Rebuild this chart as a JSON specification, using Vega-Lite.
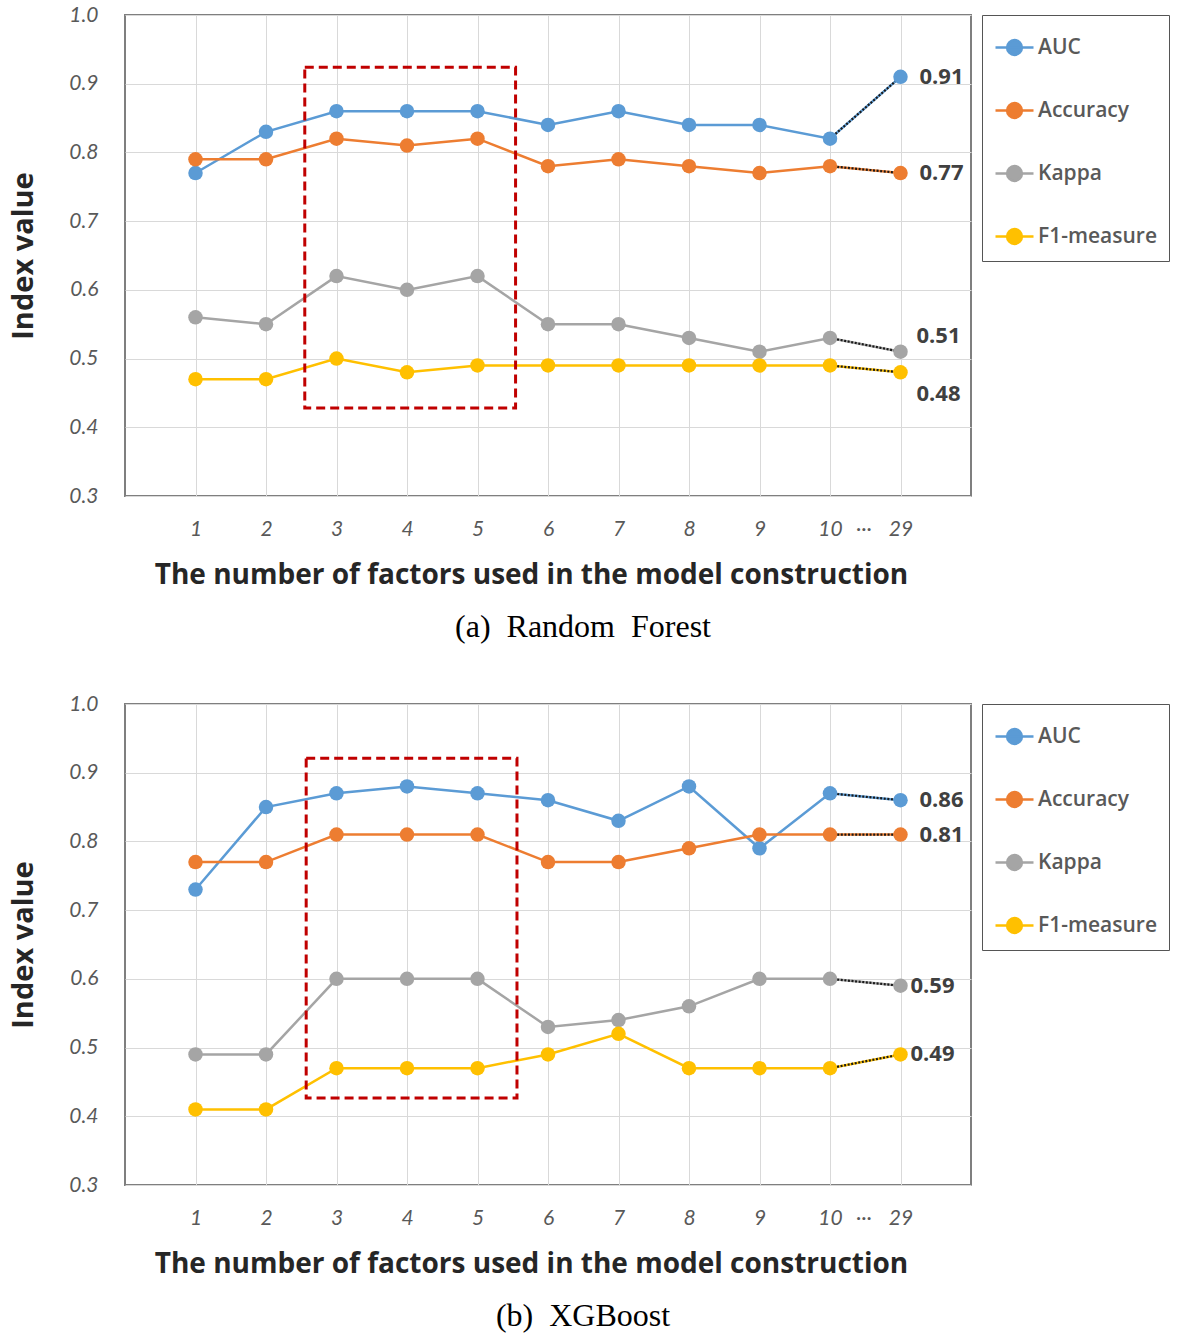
{
  "$schema": "https://vega.github.io/schema/vega-lite/v6.json",
  "padding": {"left": 8, "top": 3, "right": 4, "bottom": 4},
  "spacing": 48,
  "datasets": {
    "rf": [
      {"pos": 1, "metric": "AUC", "value": 0.77}, {"pos": 2, "metric": "AUC", "value": 0.83}, {"pos": 3, "metric": "AUC", "value": 0.86}, {"pos": 4, "metric": "AUC", "value": 0.86}, {"pos": 5, "metric": "AUC", "value": 0.86}, {"pos": 6, "metric": "AUC", "value": 0.84}, {"pos": 7, "metric": "AUC", "value": 0.86}, {"pos": 8, "metric": "AUC", "value": 0.84}, {"pos": 9, "metric": "AUC", "value": 0.84}, {"pos": 10, "metric": "AUC", "value": 0.82}, {"pos": 11, "metric": "AUC", "value": 0.91},
      {"pos": 1, "metric": "Accuracy", "value": 0.79}, {"pos": 2, "metric": "Accuracy", "value": 0.79}, {"pos": 3, "metric": "Accuracy", "value": 0.82}, {"pos": 4, "metric": "Accuracy", "value": 0.81}, {"pos": 5, "metric": "Accuracy", "value": 0.82}, {"pos": 6, "metric": "Accuracy", "value": 0.78}, {"pos": 7, "metric": "Accuracy", "value": 0.79}, {"pos": 8, "metric": "Accuracy", "value": 0.78}, {"pos": 9, "metric": "Accuracy", "value": 0.77}, {"pos": 10, "metric": "Accuracy", "value": 0.78}, {"pos": 11, "metric": "Accuracy", "value": 0.77},
      {"pos": 1, "metric": "Kappa", "value": 0.56}, {"pos": 2, "metric": "Kappa", "value": 0.55}, {"pos": 3, "metric": "Kappa", "value": 0.62}, {"pos": 4, "metric": "Kappa", "value": 0.60}, {"pos": 5, "metric": "Kappa", "value": 0.62}, {"pos": 6, "metric": "Kappa", "value": 0.55}, {"pos": 7, "metric": "Kappa", "value": 0.55}, {"pos": 8, "metric": "Kappa", "value": 0.53}, {"pos": 9, "metric": "Kappa", "value": 0.51}, {"pos": 10, "metric": "Kappa", "value": 0.53}, {"pos": 11, "metric": "Kappa", "value": 0.51},
      {"pos": 1, "metric": "F1-measure", "value": 0.47}, {"pos": 2, "metric": "F1-measure", "value": 0.47}, {"pos": 3, "metric": "F1-measure", "value": 0.50}, {"pos": 4, "metric": "F1-measure", "value": 0.48}, {"pos": 5, "metric": "F1-measure", "value": 0.49}, {"pos": 6, "metric": "F1-measure", "value": 0.49}, {"pos": 7, "metric": "F1-measure", "value": 0.49}, {"pos": 8, "metric": "F1-measure", "value": 0.49}, {"pos": 9, "metric": "F1-measure", "value": 0.49}, {"pos": 10, "metric": "F1-measure", "value": 0.49}, {"pos": 11, "metric": "F1-measure", "value": 0.48}
    ],
    "xgb": [
      {"pos": 1, "metric": "AUC", "value": 0.73}, {"pos": 2, "metric": "AUC", "value": 0.85}, {"pos": 3, "metric": "AUC", "value": 0.87}, {"pos": 4, "metric": "AUC", "value": 0.88}, {"pos": 5, "metric": "AUC", "value": 0.87}, {"pos": 6, "metric": "AUC", "value": 0.86}, {"pos": 7, "metric": "AUC", "value": 0.83}, {"pos": 8, "metric": "AUC", "value": 0.88}, {"pos": 9, "metric": "AUC", "value": 0.79}, {"pos": 10, "metric": "AUC", "value": 0.87}, {"pos": 11, "metric": "AUC", "value": 0.86},
      {"pos": 1, "metric": "Accuracy", "value": 0.77}, {"pos": 2, "metric": "Accuracy", "value": 0.77}, {"pos": 3, "metric": "Accuracy", "value": 0.81}, {"pos": 4, "metric": "Accuracy", "value": 0.81}, {"pos": 5, "metric": "Accuracy", "value": 0.81}, {"pos": 6, "metric": "Accuracy", "value": 0.77}, {"pos": 7, "metric": "Accuracy", "value": 0.77}, {"pos": 8, "metric": "Accuracy", "value": 0.79}, {"pos": 9, "metric": "Accuracy", "value": 0.81}, {"pos": 10, "metric": "Accuracy", "value": 0.81}, {"pos": 11, "metric": "Accuracy", "value": 0.81},
      {"pos": 1, "metric": "Kappa", "value": 0.49}, {"pos": 2, "metric": "Kappa", "value": 0.49}, {"pos": 3, "metric": "Kappa", "value": 0.60}, {"pos": 4, "metric": "Kappa", "value": 0.60}, {"pos": 5, "metric": "Kappa", "value": 0.60}, {"pos": 6, "metric": "Kappa", "value": 0.53}, {"pos": 7, "metric": "Kappa", "value": 0.54}, {"pos": 8, "metric": "Kappa", "value": 0.56}, {"pos": 9, "metric": "Kappa", "value": 0.60}, {"pos": 10, "metric": "Kappa", "value": 0.60}, {"pos": 11, "metric": "Kappa", "value": 0.59},
      {"pos": 1, "metric": "F1-measure", "value": 0.41}, {"pos": 2, "metric": "F1-measure", "value": 0.41}, {"pos": 3, "metric": "F1-measure", "value": 0.47}, {"pos": 4, "metric": "F1-measure", "value": 0.47}, {"pos": 5, "metric": "F1-measure", "value": 0.47}, {"pos": 6, "metric": "F1-measure", "value": 0.49}, {"pos": 7, "metric": "F1-measure", "value": 0.52}, {"pos": 8, "metric": "F1-measure", "value": 0.47}, {"pos": 9, "metric": "F1-measure", "value": 0.47}, {"pos": 10, "metric": "F1-measure", "value": 0.47}, {"pos": 11, "metric": "F1-measure", "value": 0.49}
    ],
    "rfBox": [{"from": 2.55, "to": 5.54, "top": 0.924, "bottom": 0.428}],
    "xgbBox": [{"from": 2.57, "to": 5.56, "top": 0.921, "bottom": 0.4265}],
    "gap": [{"pos": 10.48, "value": 0.3, "label": "\u00b7\u00b7\u00b7"}]
  },
  "vconcat": [
    {
      "width": 846,
      "height": 481,
      "data": {"name": "rf"},
      "title": {"text": "(a)\u00a0 Random\u00a0 Forest"},
      "encoding": {
        "x": {"field": "pos", "type": "quantitative", "scale": {"domain": [0, 12], "nice": false, "zero": false}, "axis": {"values": [1, 2, 3, 4, 5, 6, 7, 8, 9, 10, 11], "labelExpr": "datum.value == 11 ? '29' : '' + datum.value"}, "title": "The number of factors used in the model construction"},
        "y": {"field": "value", "type": "quantitative", "scale": {"domain": [0.3, 1.0], "nice": false, "zero": false}, "axis": {"values": [0.3, 0.4, 0.5, 0.6, 0.7, 0.8, 0.9, 1.0], "format": ".1f"}, "title": "Index value"}
      },
      "layer": [
        {"mark": {"type": "line", "strokeWidth": 2.5}, "encoding": {"color": {"field": "metric", "type": "nominal", "scale": {"domain": ["AUC", "Accuracy", "Kappa", "F1-measure"], "range": ["#5B9BD5", "#ED7D31", "#A5A5A5", "#FFC000"]}}}},
        {"transform": [{"filter": "datum.pos >= 10"}], "mark": {"type": "line", "strokeWidth": 2.2, "color": "#1a1a1a", "strokeDash": [2, 1.6]}, "encoding": {"detail": {"field": "metric"}}},
        {"mark": {"type": "point", "filled": true, "size": 210, "opacity": 1}, "encoding": {"color": {"field": "metric", "type": "nominal", "scale": {"domain": ["AUC", "Accuracy", "Kappa", "F1-measure"], "range": ["#5B9BD5", "#ED7D31", "#A5A5A5", "#FFC000"]}}}},
        {"data": {"name": "rfBox"}, "mark": {"type": "rect", "fillOpacity": 0, "stroke": "#C00000", "strokeWidth": 3, "strokeDash": [9, 5]}, "encoding": {"x": {"field": "from", "type": "quantitative"}, "x2": {"field": "to"}, "y": {"field": "top", "type": "quantitative"}, "y2": {"field": "bottom"}}},
        {"transform": [{"filter": "datum.pos == 11 && (datum.metric == 'AUC' || datum.metric == 'Accuracy')"}], "mark": {"type": "text", "align": "left", "baseline": "middle", "dx": 19, "font": "Open Sans", "fontSize": 22, "fontWeight": "bold", "color": "#404040"}, "encoding": {"text": {"field": "value", "type": "quantitative", "format": ".2f"}}},
        {"transform": [{"filter": "datum.pos == 11 && datum.metric == 'Kappa'"}], "mark": {"type": "text", "align": "left", "baseline": "middle", "dx": 16, "dy": -16, "font": "Open Sans", "fontSize": 22, "fontWeight": "bold", "color": "#404040"}, "encoding": {"text": {"field": "value", "type": "quantitative", "format": ".2f"}}},
        {"transform": [{"filter": "datum.pos == 11 && datum.metric == 'F1-measure'"}], "mark": {"type": "text", "align": "left", "baseline": "middle", "dx": 16, "dy": 22, "font": "Open Sans", "fontSize": 22, "fontWeight": "bold", "color": "#404040"}, "encoding": {"text": {"field": "value", "type": "quantitative", "format": ".2f"}}},
        {"data": {"name": "gap"}, "mark": {"type": "text", "align": "center", "baseline": "middle", "dy": 33, "font": "Lato", "fontSize": 20, "color": "#595959"}, "encoding": {"x": {"field": "pos", "type": "quantitative"}, "y": {"field": "value", "type": "quantitative"}, "text": {"field": "label"}}}
      ]
    },
    {
      "width": 846,
      "height": 481,
      "data": {"name": "xgb"},
      "title": {"text": "(b)\u00a0 XGBoost"},
      "encoding": {
        "x": {"field": "pos", "type": "quantitative", "scale": {"domain": [0, 12], "nice": false, "zero": false}, "axis": {"values": [1, 2, 3, 4, 5, 6, 7, 8, 9, 10, 11], "labelExpr": "datum.value == 11 ? '29' : '' + datum.value"}, "title": "The number of factors used in the model construction"},
        "y": {"field": "value", "type": "quantitative", "scale": {"domain": [0.3, 1.0], "nice": false, "zero": false}, "axis": {"values": [0.3, 0.4, 0.5, 0.6, 0.7, 0.8, 0.9, 1.0], "format": ".1f"}, "title": "Index value"}
      },
      "layer": [
        {"mark": {"type": "line", "strokeWidth": 2.5}, "encoding": {"color": {"field": "metric", "type": "nominal", "scale": {"domain": ["AUC", "Accuracy", "Kappa", "F1-measure"], "range": ["#5B9BD5", "#ED7D31", "#A5A5A5", "#FFC000"]}}}},
        {"transform": [{"filter": "datum.pos >= 10"}], "mark": {"type": "line", "strokeWidth": 2.2, "color": "#1a1a1a", "strokeDash": [2, 1.6]}, "encoding": {"detail": {"field": "metric"}}},
        {"mark": {"type": "point", "filled": true, "size": 210, "opacity": 1}, "encoding": {"color": {"field": "metric", "type": "nominal", "scale": {"domain": ["AUC", "Accuracy", "Kappa", "F1-measure"], "range": ["#5B9BD5", "#ED7D31", "#A5A5A5", "#FFC000"]}}}},
        {"data": {"name": "xgbBox"}, "mark": {"type": "rect", "fillOpacity": 0, "stroke": "#C00000", "strokeWidth": 3, "strokeDash": [9, 5]}, "encoding": {"x": {"field": "from", "type": "quantitative"}, "x2": {"field": "to"}, "y": {"field": "top", "type": "quantitative"}, "y2": {"field": "bottom"}}},
        {"transform": [{"filter": "datum.pos == 11 && (datum.metric == 'AUC' || datum.metric == 'Accuracy')"}], "mark": {"type": "text", "align": "left", "baseline": "middle", "dx": 19, "font": "Open Sans", "fontSize": 22, "fontWeight": "bold", "color": "#404040"}, "encoding": {"text": {"field": "value", "type": "quantitative", "format": ".2f"}}},
        {"transform": [{"filter": "datum.pos == 11 && (datum.metric == 'Kappa' || datum.metric == 'F1-measure')"}], "mark": {"type": "text", "align": "left", "baseline": "middle", "dx": 10, "font": "Open Sans", "fontSize": 22, "fontWeight": "bold", "color": "#404040"}, "encoding": {"text": {"field": "value", "type": "quantitative", "format": ".2f"}}},
        {"data": {"name": "gap"}, "mark": {"type": "text", "align": "center", "baseline": "middle", "dy": 33, "font": "Lato", "fontSize": 20, "color": "#595959"}, "encoding": {"x": {"field": "pos", "type": "quantitative"}, "y": {"field": "value", "type": "quantitative"}, "text": {"field": "label"}}}
      ]
    }
  ],
  "resolve": {"legend": {"color": "independent"}},
  "config": {
    "view": {"stroke": "#7F7F7F", "strokeWidth": 2},
    "title": {"orient": "bottom", "font": "Liberation Serif", "fontSize": 32, "fontWeight": "normal", "color": "#000000", "offset": 23, "anchor": "middle", "dx": 35},
    "axisX": {
      "grid": true, "gridColor": "#D9D9D9", "gridWidth": 1,
      "ticks": false, "domain": false,
      "labelFont": "Lato", "labelFontStyle": "italic", "labelFontSize": 21, "labelColor": "#595959", "labelPadding": 22,
      "titleFont": "Open Sans", "titleFontSize": 28, "titleFontWeight": "bold", "titleColor": "#262626", "titlePadding": 22,
      "titleX": 406, "titleAlign": "center"
    },
    "axisY": {
      "grid": true, "gridColor": "#D9D9D9", "gridWidth": 1,
      "ticks": false, "domain": false,
      "labelFont": "Lato", "labelFontStyle": "italic", "labelFontSize": 21, "labelColor": "#595959", "labelPadding": 27,
      "titleFont": "Open Sans", "titleFontSize": 29, "titleFontWeight": "bold", "titleColor": "#262626", "titlePadding": 30
    },
    "legend": {
      "orient": "right", "offset": 11, "title": null,
      "symbolType": "M-1,0L1,0M-0.39,0A0.39,0.39,0,1,1,0.39,0A0.39,0.39,0,1,1,-0.39,0Z",
      "symbolSize": 1444, "symbolStrokeWidth": 2.5, "symbolOpacity": 1,
      "labelFont": "Open Sans", "labelFontSize": 21, "labelFontWeight": 600, "labelColor": "#595959", "labelOffset": 3,
      "strokeColor": "#555555", "padding": 12, "rowPadding": 30,
      "encode": {"symbols": {"update": {"fill": {"scale": "color", "field": "value"}, "stroke": {"scale": "color", "field": "value"}}}}
    }
  }
}
